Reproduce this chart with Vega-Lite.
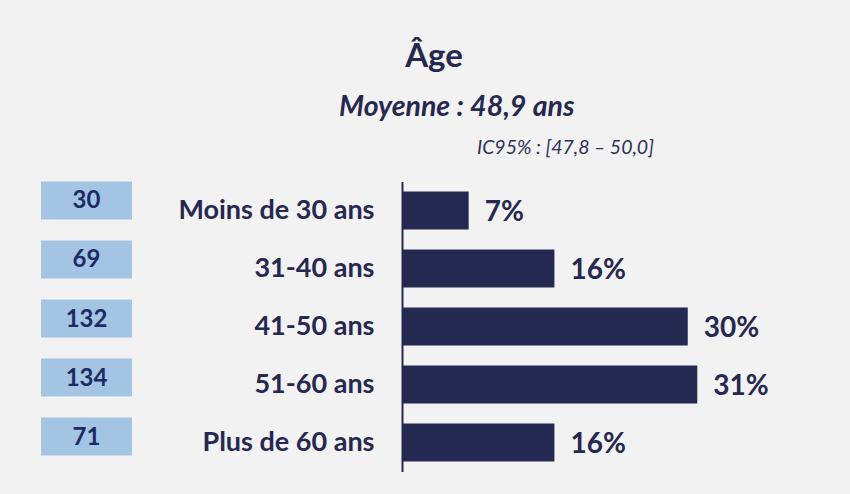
{
  "$schema": "https://vega.github.io/schema/vega-lite/v6.json",
  "background": "#f2f2f2",
  "padding": {"left": 41, "top": 40.5, "right": 67, "bottom": 23},
  "title": {
    "text": "Âge",
    "anchor": "middle",
    "dx": 22,
    "fontSize": 33,
    "font": "Lato",
    "fontWeight": "bold",
    "color": "#262851",
    "baseline": "top",
    "offset": 19
  },
  "datasets": {
    "age": [
      {"cat": "Moins de 30 ans", "n": 30, "pct": 7, "label": "7%"},
      {"cat": "31-40 ans", "n": 69, "pct": 16, "label": "16%"},
      {"cat": "41-50 ans", "n": 132, "pct": 30, "label": "30%"},
      {"cat": "51-60 ans", "n": 134, "pct": 31, "label": "31%"},
      {"cat": "Plus de 60 ans", "n": 71, "pct": 16, "label": "16%"}
    ]
  },
  "bounds": "flush",
  "spacing": 270,
  "hconcat": [
    {
      "width": 91,
      "height": 274,
      "data": {"name": "age"},
      "title": {
        "text": "Moyenne : 48,9 ans",
        "anchor": "start",
        "frame": "group",
        "dx": 298,
        "offset": 37,
        "baseline": "alphabetic",
        "fontSize": 28.5,
        "font": "Lato",
        "fontWeight": "bold",
        "fontStyle": "italic",
        "color": "#262851"
      },
      "encoding": {
        "y": {
          "field": "cat",
          "type": "nominal",
          "sort": null,
          "axis": null,
          "scale": {"paddingInner": 0.356, "paddingOuter": 0}
        }
      },
      "layer": [
        {
          "mark": {"type": "bar", "color": "#a3c4e3"},
          "encoding": {
            "x": {"datum": 0, "type": "quantitative", "scale": {"domain": [0, 1]}, "axis": null},
            "x2": {"datum": 1}
          }
        },
        {
          "mark": {"type": "text", "font": "Lato", "fontWeight": "bold", "fontSize": 24, "color": "#1c2b63", "baseline": "middle", "align": "center", "dy": 1},
          "encoding": {
            "x": {"datum": 0.5, "type": "quantitative"},
            "text": {"field": "n", "type": "quantitative"}
          }
        }
      ]
    },
    {
      "width": 381,
      "height": 290,
      "data": {"name": "age"},
      "title": {
        "text": "IC95% : [47,8 – 50,0]",
        "anchor": "start",
        "frame": "group",
        "dx": 75,
        "offset": 8,
        "baseline": "alphabetic",
        "fontSize": 19.5,
        "font": "Lato",
        "fontWeight": "normal",
        "fontStyle": "italic",
        "color": "#2e3158"
      },
      "encoding": {
        "y": {
          "field": "cat",
          "type": "nominal",
          "sort": null,
          "scale": {"paddingInner": 0.345, "paddingOuter": 0.1725},
          "axis": {
            "title": null,
            "ticks": false,
            "labelPadding": 28,
            "labelFont": "Lato",
            "labelFontSize": 27,
            "labelFontWeight": "bold",
            "labelColor": "#262851",
            "labelLimit": 400,
            "domainColor": "#262851",
            "domainWidth": 2
          }
        },
        "x": {
          "field": "pct",
          "type": "quantitative",
          "scale": {"domain": [0, 40]},
          "axis": null
        }
      },
      "layer": [
        {"mark": {"type": "bar", "color": "#252850"}},
        {
          "mark": {"type": "text", "font": "Lato", "fontWeight": "bold", "fontSize": 28, "color": "#262851", "align": "left", "baseline": "middle", "dx": 16, "dy": 2},
          "encoding": {"text": {"field": "label", "type": "nominal"}}
        }
      ]
    }
  ],
  "config": {"view": {"stroke": null}}
}
